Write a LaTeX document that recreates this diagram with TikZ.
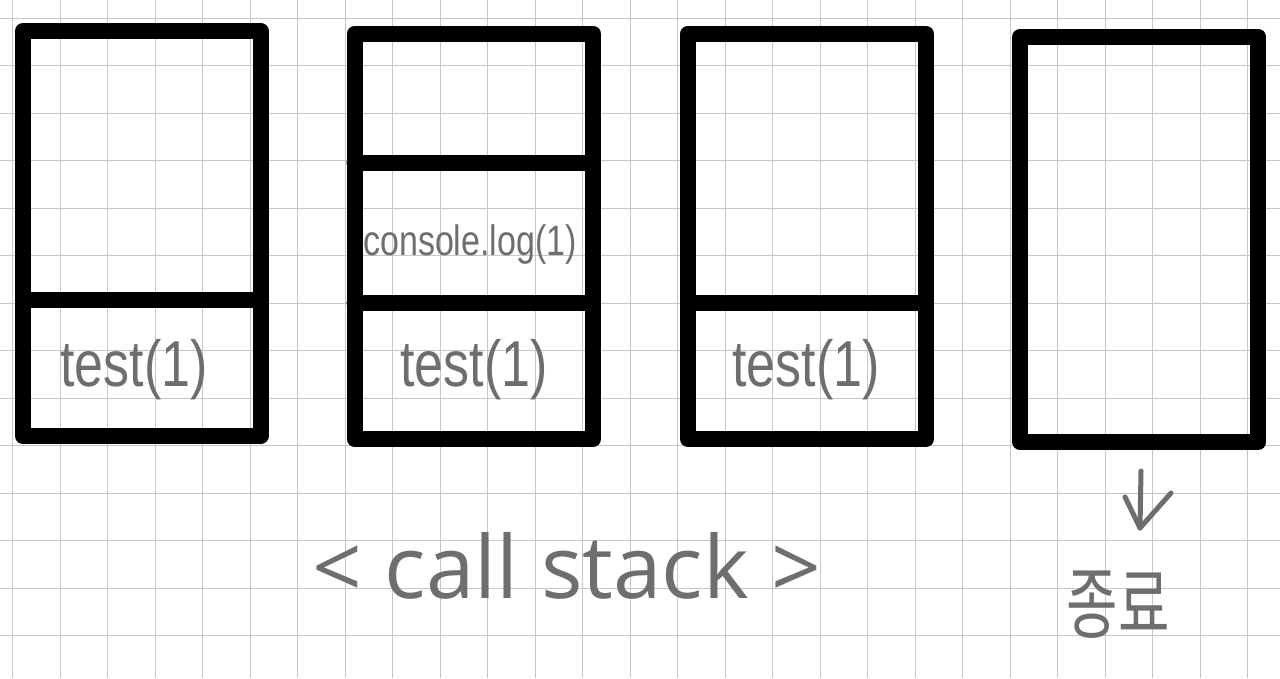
\documentclass[tikz,border=0pt]{standalone}
\usepackage{fontspec}
\setmainfont{Liberation Sans}
\newfontfamily\labelfont{Open Sans}
\newfontfamily\krfont{Noto Sans CJK KR}
\definecolor{gridc}{HTML}{C6C6C6}
\definecolor{ink}{HTML}{6E6E6E}
\begin{document}
\begin{tikzpicture}[x=1pt,y=-1pt,
  gridline/.style={draw=gridc,line width=1.3pt},
  frame/.style={draw=black,line width=16pt,line join=round,line cap=round},
  hand/.style={text=ink,inner sep=0pt,font=\fontsize{52}{52}\selectfont,yscale=1.25},
  pen/.style={draw=ink,line width=5pt,line cap=round,line join=round}]
\useasboundingbox (0,0) rectangle (1280,678);
\fill[white] (0,0) rectangle (1280,678);
% grid
\foreach \i in {0,...,26} {\draw[gridline] ({12.7+47.5*\i},0) -- ({12.7+47.5*\i},678);}
\foreach \j in {0,...,13} {\draw[gridline] (0,{18.3+47.5*\j}) -- (1280,{18.3+47.5*\j});}
% box 1
\draw[frame] (23,31) rectangle (260.5,436);
\draw[frame] (23,300.3) -- (260.5,300.3);
% box 2
\draw[frame] (354.5,33.7) rectangle (593,439);
\draw[frame] (354.5,162.5) -- (593,162.5);
\draw[frame] (354.5,303) -- (593,303);
% box 3
\draw[frame] (688,33.7) rectangle (926,439);
\draw[frame] (688,303) -- (926,303);
% box 4
\draw[frame] (1020.3,36.7) rectangle (1258.3,442);
% texts
\node[hand,font=\fontsize{34}{34}\selectfont] (c2) at (470,245) {console.log(1)};
\node[hand] (t1) at (134,370) {test(1)};
\node[hand] (t2) at (474,370) {test(1)};
\node[hand] (t3) at (806,370) {test(1)};
\node[text=ink,inner sep=0pt,anchor=base,font=\labelfont\fontsize{87}{87}\selectfont] (cs) at (567,598) {< call stack >};
% arrow and end label
\coordinate (a0) at (1141,471);
\node[text=ink,inner sep=0pt,yscale=1.4,font=\krfont\fontsize{56}{56}\selectfont] (end) at (1118,605) {종료};
\coordinate (a1) at (1140,528);
\draw[pen] (a0) -- (a1);
\draw[pen] (1125,497) -- (a1) -- (1171,493);
\end{tikzpicture}
\end{document}
